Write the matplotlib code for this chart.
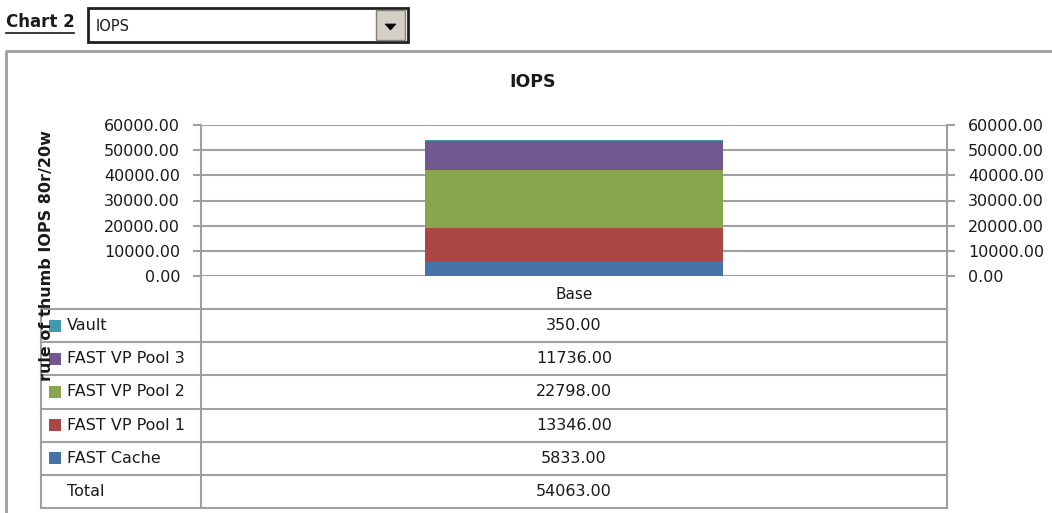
import matplotlib.pyplot as plt
from matplotlib.patches import Rectangle, Polygon
from matplotlib.lines import Line2D

# data
category = ["Base"]
series = ["FAST Cache", "FAST VP Pool 1", "FAST VP Pool 2", "FAST VP Pool 3", "Vault"]
values = [5833, 13346, 22798, 11736, 350]
colors = ["#4572a7", "#aa4643", "#89a54e", "#71588f", "#4198af"]
yticks = [0, 10000, 20000, 30000, 40000, 50000, 60000]
title = "IOPS"
ylabel = "rule of thumb IOPS 80r/20w"

W, H = 1052, 513
grey = "#a0a0a0"
txt = "#1a1a1a"

fig = plt.figure(figsize=(W / 100, H / 100), dpi=100)


def fx(x):
    return x / W


def fy(y):
    return 1 - y / H


# header: "Chart 2" label + dropdown
fig.text(fx(6), fy(22), "Chart 2", fontsize=12, fontweight="bold", color=txt, ha="left", va="center")
fig.add_artist(Line2D([fx(6), fx(74)], [fy(33), fy(33)], color=txt, lw=1.2))
fig.add_artist(Rectangle((fx(88), fy(42)), fx(408) - fx(88), fy(8) - fy(42), facecolor="white",
                         edgecolor="#202020", lw=2))
fig.add_artist(Rectangle((fx(376), fy(40)), fx(405) - fx(376), fy(10) - fy(40), facecolor="#d4d0c8",
                         edgecolor="#808080", lw=1))
fig.add_artist(Polygon([(fx(385), fy(24)), (fx(396), fy(24)), (fx(390.5), fy(30))], closed=True,
                       facecolor="black", edgecolor="black", lw=0.5))
fig.text(fx(96), fy(27), "IOPS", fontsize=10.5, color=txt, ha="left", va="center")

# outer chart border (left and top visible)
fig.add_artist(Line2D([fx(6), fx(6), fx(1052)], [fy(513), fy(51), fy(51)], color=grey, lw=2))

fig.text(fx(533), fy(82), title, fontsize=12.5, fontweight="bold", color=txt, ha="center", va="center")
fig.text(fx(47), fy(256), ylabel, fontsize=11.5, fontweight="bold", color=txt, rotation=90,
         ha="center", va="center")

# main plot
ax = fig.add_axes([fx(201), fy(276), fx(947) - fx(201), fy(125) - fy(276)])
bottom = 0
for name, v, c in zip(series, values, colors):
    ax.bar(category, [v], bottom=bottom, width=0.4, color=c, label=name, zorder=3)
    bottom += v
ax.set_xlim(-0.5, 0.5)
ax.set_ylim(0, 60000)
ax.set_yticks(yticks)
ax.set_yticklabels([f"{t:.2f}" for t in yticks])
ax.set_xticks([0])
ax.set_xticklabels(category)
ax.tick_params(axis="x", length=0, pad=8, labelsize=11, labelcolor=txt)
ax.tick_params(axis="y", direction="out", length=6, width=1.5, color=grey, pad=9,
               labelsize=11.5, labelcolor=txt)
ax.grid(axis="y", color=grey, lw=1.5, zorder=0)
ax.set_axisbelow(True)
for s in ["top", "bottom", "right", "left"]:
    ax.spines[s].set_visible(False)

ax2 = ax.twinx()
ax2.set_ylim(0, 60000)
ax2.set_yticks(yticks)
ax2.set_yticklabels([f"{t:.2f}" for t in yticks])
ax2.tick_params(axis="y", direction="out", length=6, width=1.5, color=grey, pad=9,
                labelsize=11.5, labelcolor=txt)
for s in ["top", "bottom", "right", "left"]:
    ax2.spines[s].set_visible(False)

# data table under the plot (row 0 is the category row)
rows = series[::-1] + ["Total"]
row_vals = values[::-1] + [sum(values)]
row_cols = colors[::-1] + [None]

tab = fig.add_axes([fx(41), fy(508), fx(947) - fx(41), fy(276) - fy(508)])
tab.set_xlim(41, 947)
tab.set_ylim(len(rows) + 1, 0)
tab.axis("off")
for i in range(1, len(rows) + 2):
    tab.plot([41, 947], [i, i], color=grey, lw=1.5, clip_on=False)
tab.plot([41, 41], [1, len(rows) + 1], color=grey, lw=1.5, clip_on=False)
tab.plot([201, 201], [0, len(rows) + 1], color=grey, lw=1.5, clip_on=False)
tab.plot([947, 947], [0, len(rows) + 1], color=grey, lw=1.5, clip_on=False)
ax.plot([0, 0], [0, 1], transform=ax.transAxes, color=grey, lw=1.5, clip_on=False)
ax.plot([1, 1], [0, 1], transform=ax.transAxes, color=grey, lw=1.5, clip_on=False)

for i, (name, v, c) in enumerate(zip(rows, row_vals, row_cols)):
    y = i + 1.5
    if c is not None:
        tab.add_patch(Rectangle((49, y - 0.18), 12, 0.36, facecolor=c, edgecolor="none"))
    tab.text(67, y, name, fontsize=11.5, color=txt, ha="left", va="center")
    tab.text(574, y, f"{v:.2f}", fontsize=11.5, color=txt, ha="center", va="center")

fig.savefig("out.png", dpi=100, facecolor="white")
